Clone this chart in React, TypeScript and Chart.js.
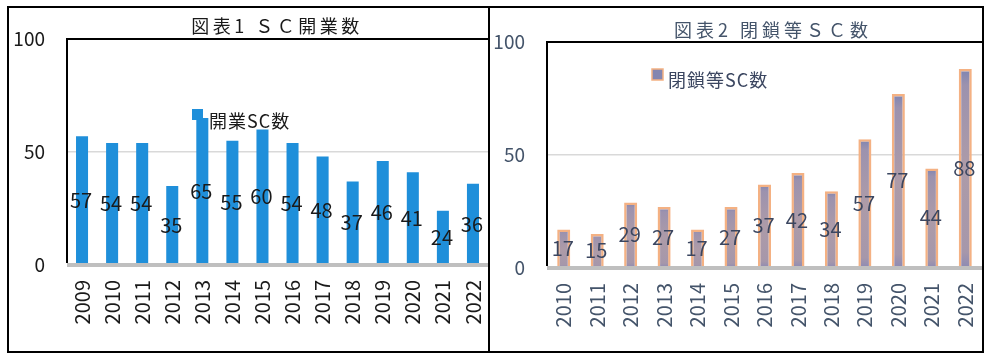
import React, { useEffect, useRef } from "react";
import { Chart, registerables } from "chart.js";

Chart.register(...registerables);

// ---- data ----
const openYears = ["2009", "2010", "2011", "2012", "2013", "2014", "2015", "2016", "2017", "2018", "2019", "2020", "2021", "2022"];
const openCounts = [57, 54, 54, 35, 65, 55, 60, 54, 48, 37, 46, 41, 24, 36];
const closeYears = ["2010", "2011", "2012", "2013", "2014", "2015", "2016", "2017", "2018", "2019", "2020", "2021", "2022"];
const closeCounts = [17, 15, 29, 27, 17, 27, 37, 42, 34, 57, 77, 44, 88];
const yTickValues = [0, 50, 100];
const title1 = "図表1 ＳＣ開業数";
const title2 = "図表2 閉鎖等ＳＣ数";
const legend1 = "開業SC数";
const legend2 = "閉鎖等SC数";

const FONT = '"Noto Sans CJK JP", "Noto Sans", sans-serif';

type Spec = {
  labels: string[];
  values: number[];
  legend: string;
  title: string;
  width: number;
  height: number;
  areaLeft: number;
  areaTop: number;
  areaBottom: number;
  barPct: number;
  textColor: string;
  labelColor: string;
  barFill: (c: any) => any;
  barBorder: string;
  barBorderWidth: number;
  titlePos: [number, number];
  titleSpacing: number;
  legendSquare: [number, number, number];
  legendText: [number, number];
  legendFill: string;
  legendBorder: string | null;
  legendSpacing: number;
};

function makeChart(canvas: HTMLCanvasElement, s: Spec) {
  const deco = {
    id: "deco",
    afterDatasetsDraw(chart: any) {
      const ctx = chart.ctx as CanvasRenderingContext2D;
      const a = chart.chartArea;
      const ys = chart.scales.y;
      const zero = ys.getPixelForValue(0);
      ctx.save();
      // gray axis line
      ctx.strokeStyle = "#bfbfbf";
      ctx.lineWidth = 4;
      ctx.beginPath();
      ctx.moveTo(a.left, zero);
      ctx.lineTo(s.width, zero);
      ctx.stroke();
      // black frame (left and top)
      ctx.strokeStyle = "#000";
      ctx.lineWidth = 2;
      ctx.beginPath();
      ctx.moveTo(a.left, zero - 2);
      ctx.lineTo(a.left, a.top);
      ctx.lineTo(s.width, a.top);
      ctx.stroke();
      // data labels
      const meta = chart.getDatasetMeta(0);
      ctx.fillStyle = s.labelColor;
      ctx.font = `20px ${FONT}`;
      ctx.textAlign = "center";
      ctx.textBaseline = "middle";
      meta.data.forEach((bar: any, i: number) => {
        const p = bar.getProps(["x", "y", "base"], true);
        ctx.fillText(String(s.values[i]), p.x - 1, (p.y + p.base) / 2);
      });
      // legend
      const [sx, sy, ss] = s.legendSquare;
      ctx.fillStyle = s.legendFill;
      ctx.fillRect(sx, sy, ss, ss);
      if (s.legendBorder) {
        ctx.strokeStyle = s.legendBorder;
        ctx.lineWidth = 1.5;
        ctx.strokeRect(sx, sy, ss, ss);
      }
      ctx.fillStyle = s.labelColor;
      ctx.textAlign = "left";
      (ctx as any).letterSpacing = `${s.legendSpacing}px`;
      ctx.font = `18px ${FONT}`;
      ctx.fillText(s.legend, s.legendText[0], s.legendText[1]);
      // title
      ctx.fillStyle = s.textColor;
      ctx.textAlign = "center";
      (ctx as any).letterSpacing = `${s.titleSpacing}px`;
      ctx.font = `18px ${FONT}`;
      ctx.fillText(s.title, s.titlePos[0], s.titlePos[1]);
      ctx.restore();
    },
  };

  return new Chart(canvas, {
    type: "bar",
    data: {
      labels: s.labels,
      datasets: [
        {
          label: s.legend,
          data: s.values,
          backgroundColor: s.barFill,
          borderColor: s.barBorder,
          borderWidth: s.barBorderWidth,
          barPercentage: s.barPct,
          categoryPercentage: 1,
        },
      ],
    },
    options: {
      responsive: false,
      animation: false,
      devicePixelRatio: 1,
      layout: { padding: { top: s.areaTop, left: 0, right: 0, bottom: 0 } },
      plugins: { legend: { display: false }, title: { display: false }, tooltip: { enabled: false } },
      scales: {
        x: {
          offset: true,
          grid: { display: false, drawTicks: false },
          border: { display: false },
          ticks: {
            autoSkip: false,
            minRotation: 90,
            maxRotation: 90,
            padding: 15,
            color: s.textColor,
            font: { family: FONT, size: 20 },
          },
          afterFit(scale: any) {
            scale.height = s.height - s.areaBottom;
            scale.paddingLeft = 0;
            scale.paddingRight = 0;
          },
        },
        y: {
          min: 0,
          max: 100,
          afterBuildTicks(scale: any) {
            scale.ticks = yTickValues.map((v) => ({ value: v }));
          },
          grid: {
            drawTicks: false,
            color: (c: any) => (c.tick && c.tick.value === 50 ? "#d9d9d9" : "rgba(0,0,0,0)"),
            lineWidth: 1.5,
          },
          border: { display: false },
          ticks: {
            padding: 22,
            color: s.textColor,
            font: { family: FONT, size: 19 },
          },
          afterFit(scale: any) {
            scale.width = s.areaLeft;
            scale.paddingTop = 0;
            scale.paddingBottom = 0;
          },
        },
      },
    },
    plugins: [deco],
  } as any);
}

const spec1: Spec = {
  labels: openYears,
  values: openCounts,
  legend: legend1,
  title: title1,
  width: 479,
  height: 343,
  areaLeft: 58,
  areaTop: 31,
  areaBottom: 257,
  barPct: 0.4,
  textColor: "#1a1a1a",
  labelColor: "#1a1a1a",
  barFill: () => "#1f8fda",
  barBorder: "#1f8fda",
  barBorderWidth: 0,
  titlePos: [268, 18],
  titleSpacing: 3.5,
  legendSquare: [183, 101, 11],
  legendText: [200, 113],
  legendFill: "#1f8fda",
  legendBorder: null,
  legendSpacing: 1,
};

const closeFill = (c: any) => {
  const chart = c.chart;
  const ys = chart.scales && chart.scales.y;
  if (!ys || c.type !== "data" || !c.parsed) return "#a596aa";
  const top = ys.getPixelForValue(c.parsed.y);
  const bot = ys.getPixelForValue(0);
  if (!isFinite(top) || !isFinite(bot) || bot - top < 1) return "#a596aa";
  const g = chart.ctx.createLinearGradient(0, top, 0, bot);
  g.addColorStop(0, "#7e84b2");
  g.addColorStop(0.08, "#9c92ae");
  g.addColorStop(0.5, "#ad9ba8");
  g.addColorStop(0.92, "#a697aa");
  g.addColorStop(1, "#8c8ab4");
  return g;
};

const spec2: Spec = {
  labels: closeYears,
  values: closeCounts,
  legend: legend2,
  title: title2,
  width: 492,
  height: 343,
  areaLeft: 57,
  areaTop: 34,
  areaBottom: 260,
  barPct: 0.39,
  textColor: "#44546a",
  labelColor: "#3b4660",
  barFill: closeFill,
  barBorder: "#f4b183",
  barBorderWidth: 2.5,
  titlePos: [283, 22],
  titleSpacing: 4,
  legendSquare: [162, 61, 11],
  legendText: [178, 72],
  legendFill: "#8486b0",
  legendBorder: "#f4b183",
  legendSpacing: 1,
};

function Panel({ spec, left, width }: { spec: Spec; left: number; width: number }) {
  const ref = useRef<HTMLCanvasElement | null>(null);
  useEffect(() => {
    if (!ref.current) return;
    const chart = makeChart(ref.current, spec);
    return () => chart.destroy();
  }, [spec]);
  return (
    <div
      style={{
        position: "absolute",
        left,
        top: 6,
        width,
        height: 347,
        boxSizing: "border-box",
        border: "2px solid #000",
        background: "#fff",
      }}
    >
      <canvas
        ref={ref}
        width={spec.width}
        height={spec.height}
        style={{ display: "block", width: spec.width, height: spec.height }}
      />
    </div>
  );
}

export default function App() {
  return (
    <div>
      <Panel spec={spec1} left={7} width={483} />
      <Panel spec={spec2} left={488} width={496} />
    </div>
  );
}
